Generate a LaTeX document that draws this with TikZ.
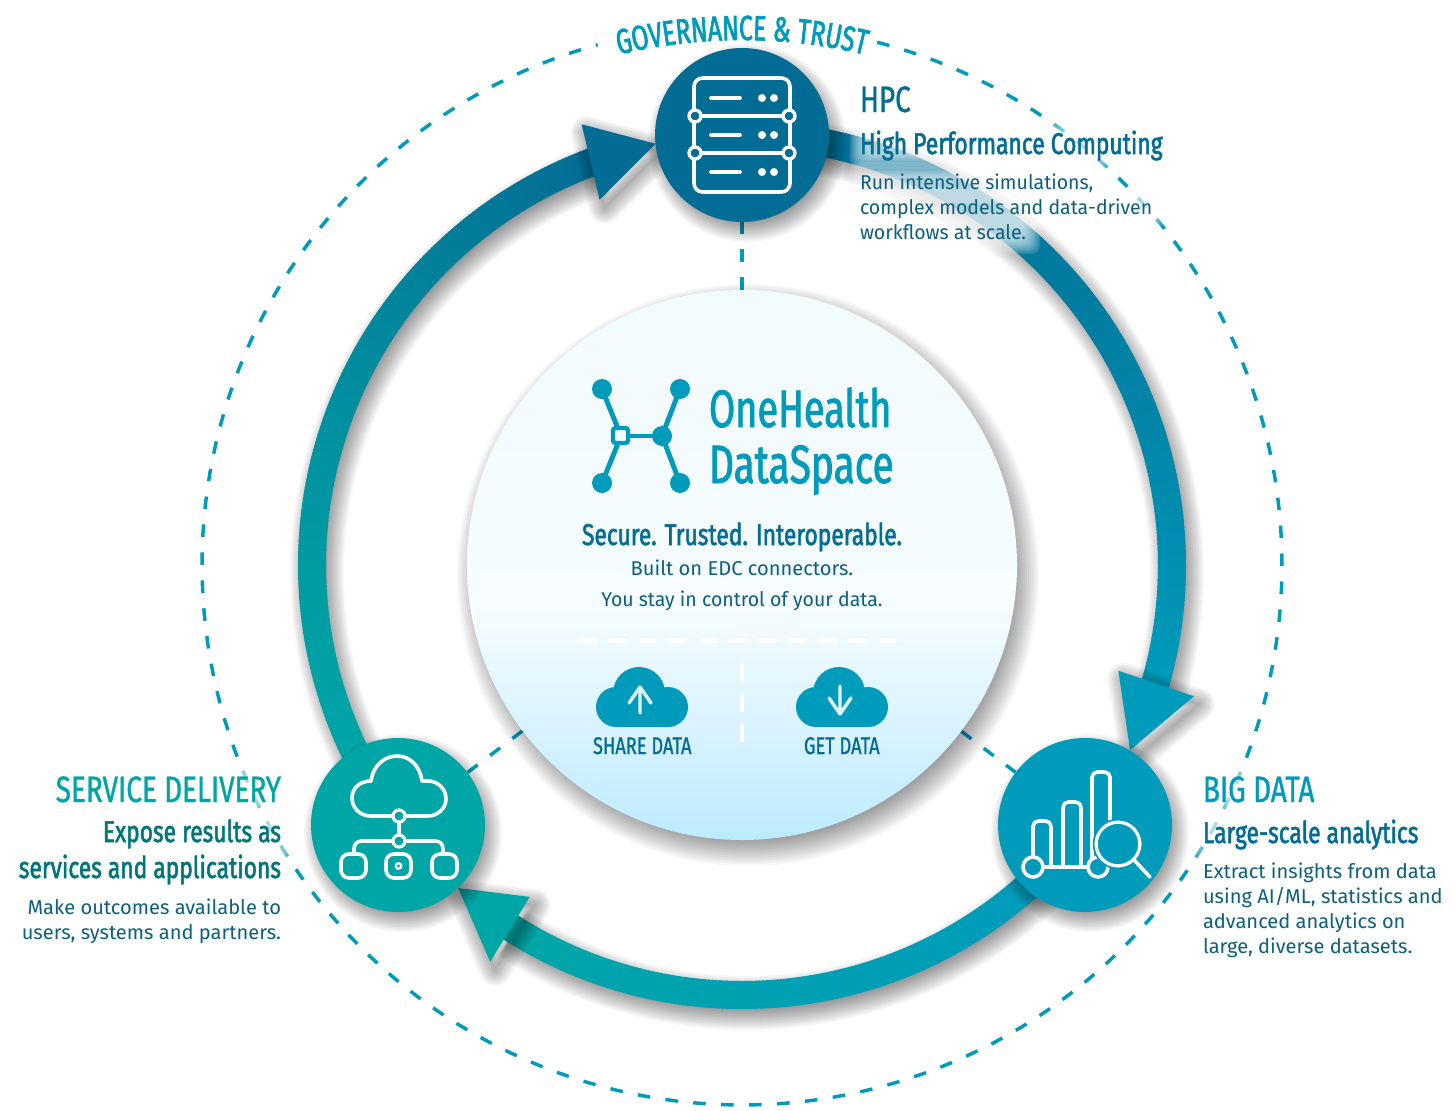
\documentclass[tikz,border=0pt]{standalone}
\usepackage{fontspec}
\usetikzlibrary{decorations.text}
\setmainfont{Fira Sans}
\newfontfamily\logof[FakeStretch=0.72,FakeBold=1.5]{Fira Sans}
\newfontfamily\condm[FakeStretch=0.76,FakeBold=1.0]{Fira Sans}
\newfontfamily\condb[FakeStretch=0.76,FakeBold=1.8]{Fira Sans}
\newfontfamily\govf[FakeStretch=0.70,FakeBold=2]{Fira Sans}
\newfontfamily\bodyf[FakeStretch=0.975]{Fira Sans}
\newfontfamily\bodyw[FakeStretch=1.005]{Fira Sans}
\definecolor{cdeep}{HTML}{036C94}
\definecolor{cblue}{HTML}{009BBB}
\definecolor{cteal}{HTML}{00A6A6}
\definecolor{cdteal}{HTML}{00757A}
\definecolor{cbody}{HTML}{0B5F7F}
\definecolor{cglow}{HTML}{DDF5FF}
\definecolor{ctop}{HTML}{F2FBFE}
\definecolor{cmid}{HTML}{F6FCFF}
\definecolor{cbot}{HTML}{BCEBFF}
\pgfdeclareverticalshading{coreshade}{100bp}{color(0bp)=(cbot); color(25bp)=(cbot); color(46bp)=(cmid); color(75bp)=(ctop); color(100bp)=(ctop)}
\tikzset{
  x=0.75pt,y=-0.75pt,
  hub/.style={circle,inner sep=0pt,minimum size=130.5pt},
  dashlink/.style={draw=cblue,line width=2.6pt,dash pattern=on 9.4pt off 11.6pt},
  icon/.style={draw=white,line width=2.7pt,line cap=round,line join=round},
  lt/.style={inner sep=0pt,outer sep=0pt,anchor=base west},
  rt/.style={inner sep=0pt,outer sep=0pt,anchor=base east},
  ct/.style={inner sep=0pt,outer sep=0pt,anchor=base},
  head1/.style={font=\condm\fontsize{27.5}{30}\selectfont},
  head2/.style={font=\condb\fontsize{22.5}{26}\selectfont},
  copyt/.style={font=\bodyf\fontsize{15}{18}\selectfont,text=cbody},
  copyw/.style={font=\bodyw\fontsize{15}{18}\selectfont,text=cbody},
  whitedash/.style={draw=white,line width=3.4pt,line cap=round,dash pattern=on 11.25pt off 11.25pt},
}
% blurred disc shadow
\newcommand{\softdisc}[4]{%
  \foreach \k in {-8,...,8}{\fill[black,opacity=.032] (#1+5,#2+8) circle[radius={#3+\k*#4}];}}
% band with colour running along the arc, centre (742,565) r 430
\newcommand{\ringband}[4]{%
  \begin{scope}[shift={(742,565)}]
  \foreach \w in {6,9,...,54}{\draw[black,opacity=.03,line width=\w*0.75pt,shift={(5,8)}] plot[domain=#1:#2,samples=70] (\x:430);}
  \pgfmathsetmacro{\nxt}{#1+0.5}%
  \foreach \a in {#1,\nxt,...,#2}{%
    \pgfmathsetmacro{\t}{100*((\a-(#1))/(#2-(#1)))^1.5}%
    \colorlet{segc}{#4!\t!#3}%
    \draw[segc,line width=21pt] (\a:430) -- (\a+0.7:430);}
  \end{scope}}
% arrow head: tip and two barbs in polar form
\newcommand{\ringhead}[6]{%
  \begin{scope}[shift={(742,565)}]
  \foreach \w in {2,5,...,32}{
     \draw[black,opacity=.03,line width=\w*0.75pt,line join=round,shift={(5,8)}] (#1:430) -- (#2:#3) -- (#4:#5) -- cycle;}
  \fill[#6] (#1:430) -- (#2:#3) -- (#4:#5) -- cycle;
  \end{scope}}
\newcommand{\halo}[4]{%
  \foreach \k in {0,...,9}{\fill[white,opacity=.11,rounded corners=7pt] ({#1-\k*1.6},{#2-\k*1.6}) rectangle ({#3+\k*1.6},{#4+\k*1.6});}}
\begin{document}
\begin{tikzpicture}
\useasboundingbox (0,0) rectangle (1456,1110);
\fill[white] (0,0) rectangle (1456,1110);

% outer dashed circle
\begin{scope}[shift={(742,565)}]
  \draw[dashlink] plot[domain=-75.5:254.5,samples=200] (\x:540);
  \path[decorate,decoration={text along path,text align=center,text color=cblue,
     text={|\govf\fontsize{26.2}{30}\selectfont|GOVERNANCE {\&} TRUST}}]
     plot[domain=250:290,samples=40] (\x:525);
\end{scope}

% nodes placed first for names (filled later)
\path (742,565) node[circle,inner sep=0pt,minimum size=412.5pt] (corepos) {};
\path (742,135) node[hub] (hpcpos) {};
\path (1085,825) node[hub] (bigpos) {};
\path (398,825) node[hub] (svcpos) {};
\draw[dashlink] (corepos) -- (hpcpos);
\draw[dashlink] (corepos) -- (bigpos);
\draw[dashlink] (corepos) -- (svcpos);

% cycle arrows
\ringband{-90}{17}{cdeep}{cblue}
\ringhead{25.5}{16.2}{470.5}{15.7}{391}{cblue}
\ringband{37}{123}{cblue}{cteal}
\ringhead{131.3}{122.4}{470}{122.6}{394}{cteal}
\ringband{143}{250}{cteal}{cdeep}
\ringhead{258.4}{250}{469}{248.7}{392}{cdeep}

% core disc
\foreach \k in {-8,...,8}{\fill[black,opacity=.032] (748,575) circle[radius={275+\k*2}];}
\node[circle,inner sep=0pt,minimum size=412.5pt,shading=coreshade] (core) at (742,565) {};

% logo
\draw[cblue,line width=3.7pt] (602,389) -- (621,436) -- (602,483);
\draw[cblue,line width=3.7pt] (680,389) -- (662,436) -- (680,483);
\draw[cblue,line width=3.7pt] (621,436) -- (662,436);
\foreach \p in {(602,389),(680,389),(602,483),(680,483),(662,436)}{\fill[cblue] \p circle[radius=10];}
\draw[cblue,fill=cmid,line width=3.3pt,rounded corners=2pt] (613,428) rectangle (628,443);

\node[lt,text=cblue,font=\logof\fontsize{39.5}{44}\selectfont] (ohA) at (709,427) {OneHealth};
\node[lt,text=cblue,font=\logof\fontsize{40.5}{44}\selectfont] (ohB) at (709,483) {DataSpace};
\node[ct,text=cdeep,font=\condb\fontsize{22.5}{26}\selectfont] (tag) at (742,545) {Secure. Trusted. Interoperable.};
\node[ct,copyw] (tagA) at (742,575) {Built on EDC connectors.};
\node[ct,copyt] (tagB) at (742,606) {You stay in control of your data.};

% white dividers
\coordinate (divL) at (580,640.5); \coordinate (divR) at (897,640.5);
\coordinate (divT) at (742,665); \coordinate (divB) at (742,741);
\draw[whitedash] (divL) -- (divR);
\draw[whitedash] (divT) -- (divB);

% clouds
\foreach \dx in {0,200}{
  \begin{scope}[xshift=\dx*0.75pt]
  \fill[cblue] (639,693) circle[radius=26] (616,707) circle[radius=20] (668,707) circle[radius=20];
  \fill[cblue] (616,700) rectangle (668,727);
  \end{scope}}
\draw[cglow,line width=2.6pt,line cap=round,line join=round] (640,713) -- (640,687) (629,703) -- (640,687) -- (651,703);
\draw[cglow,line width=2.6pt,line cap=round,line join=round] (840,686) -- (840,714) (829,698) -- (840,714) -- (851,698);
\node[lt,text=cdeep,font=\condm\fontsize{18}{20}\selectfont] (share) at (593,754) {SHARE DATA};
\node[lt,text=cdeep,font=\condm\fontsize{18}{20}\selectfont] (getd) at (804,754) {GET DATA};

% hub discs
\softdisc{742}{135}{87}{1.5}
\node[hub,fill=cdeep] (hpc) at (742,135) {};
\softdisc{1085}{825}{87}{1.5}
\node[hub,fill=cblue] (big) at (1085,825) {};
\softdisc{398}{825}{87}{1.5}
\node[hub,fill=cteal] (svc) at (398,825) {};

% server icon
\draw[icon,rounded corners=6.5pt] (694,78) rectangle (790,192);
\draw[icon] (694,116) -- (790,116) (694,153) -- (790,153);
\foreach \p in {(695,116),(789,116),(695,153),(789,153)}{\draw[draw=white,line width=2.5pt,fill=cdeep] \p circle[radius=6];}
\foreach \y in {98,135,172}{
  \draw[icon] (711,\y) -- (740,\y);
  \fill[white] (762,\y) circle[radius=4] (774,\y) circle[radius=4];}

% analytics icon
\draw[icon,rounded corners=4pt] (1033,858) -- (1033,821) -- (1051,821) -- (1051,867);
\draw[icon,rounded corners=4pt] (1063,867) -- (1063,802) -- (1081,802) -- (1081,867);
\draw[icon,rounded corners=4pt] (1092,867) -- (1092,772) -- (1110,772) -- (1110,830);
\draw[icon] (1043,867) -- (1090,867);
\draw[draw=white,line width=2.7pt,fill=cblue] (1033,867) circle[radius=10];
\draw[draw=white,line width=2.7pt,fill=cblue] (1098,867) circle[radius=10];
\draw[draw=white,line width=2.7pt,fill=cblue] (1118,844) circle[radius=22];
\draw[draw=cblue,line width=1.2pt] (1118,844) circle[radius=24.5];
\draw[icon] (1135,861) -- (1150,877);

% service icon
\draw[icon] (393,816) -- (371,816) .. controls (359,816) and (352,807) .. (352,798)
  .. controls (352,788) and (360,781) .. (371,781)
  .. controls (373,766) and (384,756) .. (397,756)
  .. controls (410,756) and (420,766) .. (422,781)
  -- (428,781) .. controls (438,781) and (446,789) .. (446,799)
  .. controls (446,808) and (438,816) .. (428,816) -- (405,816);
\draw[icon] (399,822) -- (399,835);
\draw[icon] (392,841) -- (362,841) .. controls (357,841) and (354,844) .. (354,849) -- (354,853);
\draw[icon] (406,841) -- (435,841) .. controls (440,841) and (443,844) .. (443,849) -- (443,853);
\draw[draw=white,line width=2.4pt,fill=cteal] (399,816) circle[radius=6];
\draw[draw=white,line width=2.4pt,fill=cteal] (399,841) circle[radius=6];
\draw[icon,rounded corners=6pt] (341,854) rectangle (366,878);
\draw[icon,rounded corners=6pt] (386,854) rectangle (411,878);
\draw[icon,rounded corners=6pt] (432,854) rectangle (457,878);
\fill[white] (398.5,866) circle[radius=4];
\fill[cteal] (398.5,866) circle[radius=1.6];

% soft glows behind the copy
\halo{864}{136}{1160}{155}
\halo{864}{176}{1092}{190}
\halo{864}{201}{1150}{215}
\halo{864}{226}{1026}{240}
\halo{1207}{779}{1305}{800}
\halo{1207}{824}{1422}{842}
\halo{1207}{864}{1436}{877}
\halo{58}{777}{277}{800}
\halo{104}{824}{277}{842}
\halo{20}{860}{277}{878}

% HPC copy
\node[lt,head1,text=cdeep] (hpcA) at (860,112) {HPC};
\node[lt,head2,text=cdeep] (hpcB) at (860,154) {High Performance Computing};
\node[lt,copyt] (hpcC) at (860,189) {Run intensive simulations,};
\node[lt,copyt] (hpcD) at (860,214) {complex models and data-driven};
\node[lt,copyt] (hpcE) at (860,239) {workflows at scale.};

% Big data copy
\node[lt,head1,text=cblue] (bigA) at (1203,802) {BIG DATA};
\node[lt,head2,text=cdeep] (bigB) at (1203,843) {Large-scale analytics};
\node[lt,copyw] (bigC) at (1203,878) {Extract insights from data};
\node[lt,copyw] (bigD) at (1203,903) {using AI/ML, statistics and};
\node[lt,copyw] (bigE) at (1203,928) {advanced analytics on};
\node[lt,copyw] (bigF) at (1203,953) {large, diverse datasets.};

% Service copy
\node[rt,head1,text=cteal] (svcA) at (281,802) {SERVICE DELIVERY};
\node[rt,head2,text=cdteal] (svcB) at (281,842) {Expose results as};
\node[rt,head2,text=cdteal] (svcC) at (281,878) {services and applications};
\node[rt,copyw] (svcD) at (281,914) {Make outcomes available to};
\node[rt,copyw] (svcE) at (281,939) {users, systems and partners.};
\end{tikzpicture}
\end{document}
